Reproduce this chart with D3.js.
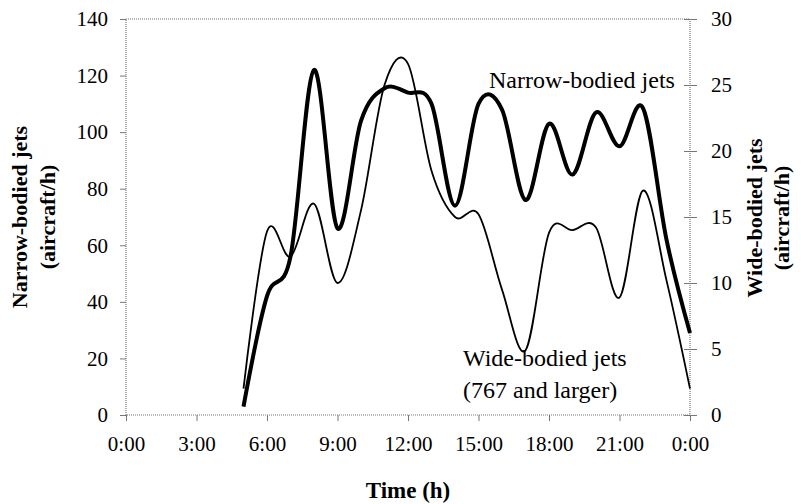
<!DOCTYPE html>
<html>
<head>
<meta charset="utf-8">
<script src="https://cdn.jsdelivr.net/npm/d3@7"></script>
<style>
  body { margin: 0; background: #fff; }
  text { font-family: "Liberation Serif", "Times New Roman", serif; fill: #000; }
</style>
</head>
<body>
<div id="chart"></div>
<script>
// chart size and plot frame
let WIDTH = 801,
    HEIGHT = 504;
const plotLeft = 126, plotRight = 690, plotTop = 19, plotBottom = 415;

// hourly values (5:00 to 24:00)
const hours = [5, 6, 7, 8, 9, 10, 11, 12, 13, 14, 15, 16, 17, 18, 19, 20, 21, 22, 23, 24];
const narrowBodied = [3, 42, 56, 122, 66, 104, 115.5, 114, 110, 74, 110, 108, 76, 103, 85, 107, 95, 108.5, 62, 29];
const wideBodied = [2, 13.9, 12, 16, 10, 15.5, 25, 26.6, 18.5, 15, 15.2, 9.5, 4.9, 13.8, 14, 14.2, 8.9, 17, 10.2, 2];

// tick values
const timeTicks = [0, 3, 6, 9, 12, 15, 18, 21, 24];
const leftTicks = [0, 20, 40, 60, 80, 100, 120, 140];
const rightTicks = [0, 5, 10, 15, 20, 25, 30];

let svg = d3.select("#chart")
    .append("svg")
    .attr("width", WIDTH)
    .attr("height", HEIGHT);

const x = d3.scaleLinear().domain([0, 24]).range([plotLeft, plotRight]);
const yLeft = d3.scaleLinear().domain([0, 140]).range([plotBottom, plotTop]);
const yRight = d3.scaleLinear().domain([0, 30]).range([plotBottom, plotTop]);

// dotted frame round the plot
svg.append("rect")
    .attr("x", plotLeft).attr("y", plotTop)
    .attr("width", plotRight - plotLeft).attr("height", plotBottom - plotTop)
    .attr("fill", "none")
    .attr("stroke", "#777")
    .attr("stroke-width", 1.2)
    .attr("stroke-dasharray", "1,1");

// axes
const gx = svg.append("g")
    .attr("transform", `translate(0,${plotBottom})`)
    .call(d3.axisBottom(x).tickValues(timeTicks)
        .tickFormat(d => (d % 24) + ":00").tickSize(6).tickPadding(15));

const gl = svg.append("g")
    .attr("transform", `translate(${plotLeft},0)`)
    .call(d3.axisLeft(yLeft).tickValues(leftTicks).tickSize(6).tickPadding(12));

const gr = svg.append("g")
    .attr("transform", `translate(${plotRight},0)`)
    .call(d3.axisRight(yRight).tickValues(rightTicks).tickSize(7).tickPadding(14));

// right ticks cross the axis
gr.selectAll(".tick line").attr("x1", -6);

[gx, gl, gr].forEach(g => {
    g.select(".domain").remove();
    g.selectAll(".tick line").attr("stroke", "#777").attr("stroke-width", 1);
    g.selectAll(".tick text")
        .style("font-family", "'Liberation Serif', serif")
        .style("font-size", "21px")
        .attr("fill", "#000");
});

// smoothed lines
const lineNarrow = d3.line()
    .x((d, i) => x(hours[i]))
    .y(d => yLeft(d))
    .curve(d3.curveCatmullRom.alpha(0));

const lineWide = d3.line()
    .x((d, i) => x(hours[i]))
    .y(d => yRight(d))
    .curve(d3.curveCatmullRom.alpha(0));

svg.append("path")
    .datum(wideBodied)
    .attr("d", lineWide)
    .attr("fill", "none")
    .attr("stroke", "#000")
    .attr("stroke-width", 1.8);

svg.append("path")
    .datum(narrowBodied)
    .attr("d", lineNarrow)
    .attr("fill", "none")
    .attr("stroke", "#000")
    .attr("stroke-width", 4)
    .attr("stroke-linejoin", "round");

// series labels
svg.append("text")
    .attr("x", 489).attr("y", 88)
    .style("font-size", "24px")
    .text("Narrow-bodied jets");

svg.append("text")
    .attr("x", 463).attr("y", 366)
    .style("font-size", "24px")
    .text("Wide-bodied jets");

svg.append("text")
    .attr("x", 463).attr("y", 398)
    .style("font-size", "24px")
    .text("(767 and larger)");

// axis titles
svg.append("text")
    .attr("x", 408).attr("y", 498)
    .attr("text-anchor", "middle")
    .style("font-size", "23px")
    .style("font-weight", "bold")
    .text("Time (h)");

svg.append("text")
    .attr("transform", "translate(27,217) rotate(-90)")
    .attr("text-anchor", "middle")
    .style("font-size", "22px")
    .style("font-weight", "bold")
    .text("Narrow-bodied jets");

svg.append("text")
    .attr("transform", "translate(55,217) rotate(-90)")
    .attr("text-anchor", "middle")
    .style("font-size", "22px")
    .style("font-weight", "bold")
    .text("(aircraft/h)");

svg.append("text")
    .attr("transform", "translate(762,218) rotate(-90)")
    .attr("text-anchor", "middle")
    .style("font-size", "22px")
    .style("font-weight", "bold")
    .text("Wide-bodied jets");

svg.append("text")
    .attr("transform", "translate(789,218) rotate(-90)")
    .attr("text-anchor", "middle")
    .style("font-size", "22px")
    .style("font-weight", "bold")
    .text("(aircraft/h)");
</script>
</body>
</html>
